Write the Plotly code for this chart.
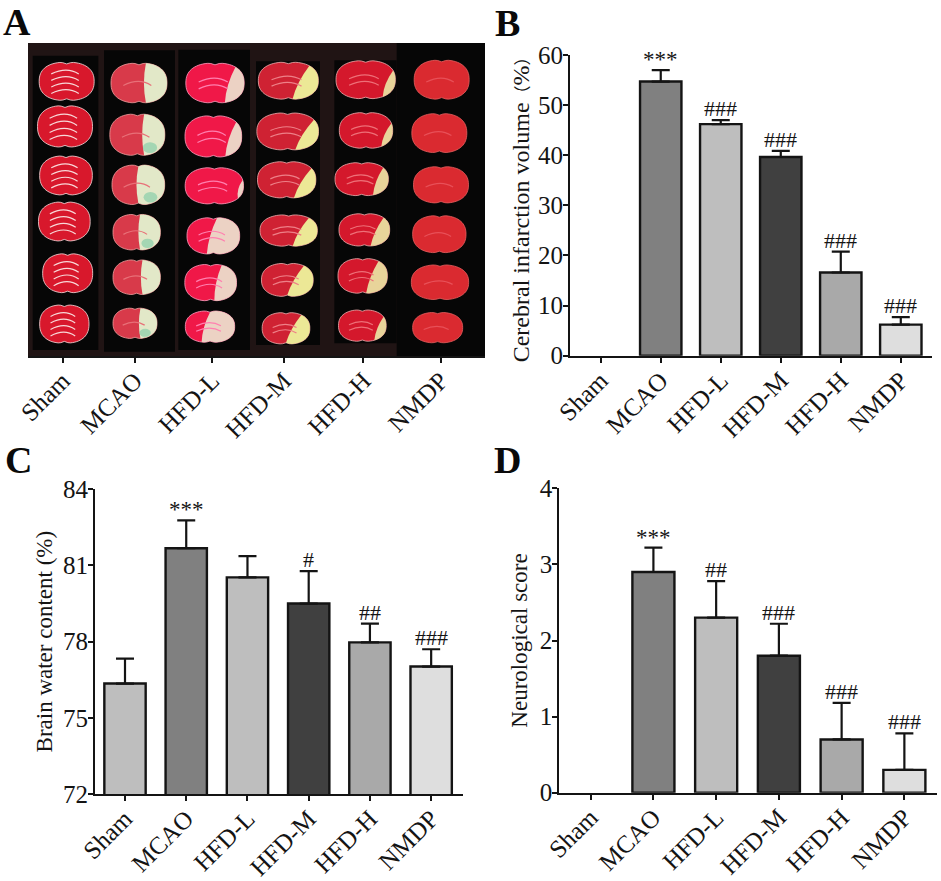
#!/usr/bin/env python
# -*- coding: utf-8 -*-
import math
import plotly.graph_objects as go
from plotly.subplots import make_subplots

W = 941
H = 881
FONT = "Liberation Serif, Noto Sans CJK SC"
INK = "#141414"

groups = ["Sham", "MCAO", "HFD-L", "HFD-M", "HFD-H", "NMDP"]
bar_colors = ["#bebebe", "#808080", "#bebebe", "#404040", "#a9a9a9", "#dedede"]

# panel B, Sham has no bar
infarct_mean = [None, 54.7, 46.2, 39.65, 16.6, 6.2]
infarct_err = [None, 2.3, 0.8, 1.2, 4.15, 1.5]
infarct_sig = ["", "***", "###", "###", "###", "###"]

# panel C
water_mean = [76.35, 81.68, 80.53, 79.5, 77.97, 77.02]
water_err = [0.98, 1.1, 0.84, 1.28, 0.74, 0.68]
water_sig = ["", "***", "", "#", "##", "###"]

# panel D, Sham has no bar
score_mean = [None, 2.9, 2.3, 1.8, 0.7, 0.3]
score_err = [None, 0.32, 0.48, 0.42, 0.48, 0.48]
score_sig = ["", "***", "##", "###", "###", "###"]

# panel A, brain sections (photo units, 3 per pixel)
photo_ticks = [188, 405, 636, 852, 1090, 1322]
strip_left = [98, 312, 535, 768, 1003, 1190]
strip_right = [295, 525, 750, 960, 1190, 1455]
strip_top = [168, 152, 150, 185, 182, 130]
strip_bottom = [1050, 1055, 1050, 1035, 1030, 1068]

section_x = [
    [200, 195, 198, 193, 203, 193],
    [417, 412, 415, 410, 410, 405],
    [645, 640, 643, 640, 632, 630],
    [865, 863, 860, 866, 862, 858],
    [1097, 1098, 1085, 1093, 1088, 1087],
    [1325, 1318, 1323, 1318, 1320, 1313],
]
section_y = [
    [245, 380, 527, 665, 820, 972],
    [250, 405, 555, 697, 832, 970],
    [250, 410, 558, 708, 848, 980],
    [243, 395, 540, 692, 840, 985],
    [240, 392, 538, 690, 828, 977],
    [240, 400, 555, 703, 847, 983],
]
section_w = [
    [165, 165, 158, 155, 150, 148],
    [168, 165, 158, 142, 142, 132],
    [175, 170, 175, 158, 155, 148],
    [180, 185, 175, 172, 155, 143],
    [178, 160, 160, 152, 148, 143],
    [165, 165, 165, 160, 172, 150],
]
section_h = [
    [115, 125, 118, 118, 118, 115],
    [120, 125, 120, 108, 105, 92],
    [120, 125, 110, 110, 110, 95],
    [112, 112, 110, 95, 100, 95],
    [115, 108, 100, 98, 105, 95],
    [118, 118, 110, 112, 105, 92],
]
lesion_share = [
    [0, 0, 0, 0, 0, 0],
    [0.4, 0.4, 0.5, 0.48, 0.42, 0.4],
    [0.25, 0.2, 0.05, 0.55, 0.4, 0.6],
    [0.3, 0.2, 0.2, 0.3, 0.35, 0.35],
    [0.1, 0.1, 0.2, 0.25, 0.3, 0.15],
    [0, 0, 0, 0, 0, 0],
]
lesion_lean = [0, 0, 0.3, 0.6, 0.4, 0]
tissue_colors = ["#d8182c", "#d83a4a", "#f01848", "#cf2233", "#d4182c", "#da2a30"]
lesion_colors = ["#ffffff", "#e2e8c8", "#ecd2c4", "#ece896", "#e8d49a", "#ffffff"]
streak_colors = ["#f8d8d8", "#e87078", "#ff80b0", "#ee8088", "#ee7078", "#e85058"]
streak_counts = [4, 1, 2, 2, 2, 1]
edge_colors = ["#f8e0e0", "#f0a0a0", "#ffa0c0", "#f0b0b0", "#f0b0b0", "#e86060"]


def outline(cx, cy, w, h):
    """brain section outline: a squared ellipse with a notch top and bottom"""
    pts = []
    for i in range(72):
        t = -math.pi + i * 2 * math.pi / 72
        c, s = math.cos(t), math.sin(t)
        u = math.copysign(abs(c) ** 0.8, c)
        v = math.copysign(abs(s) ** 0.85, s)
        dent = 0.09 * math.exp(-(u / 0.12) ** 2)
        v = v + dent if v < 0 else v - dent
        pts.append((cx + u * w / 2, cy + v * h / 2))
    return pts


def to_path(pts):
    return "M " + " L ".join(f"{x:.1f},{y:.1f}" for x, y in pts) + " Z"


def lesion_path(pts, cx, cy, w, share, lean):
    """right hand part of the outline, closed with a curve that bulges left"""
    cut = cx + w / 2 - share * w
    part = [p for p in pts if p[0] + lean * (p[1] - cy) >= cut]
    head = "M " + " L ".join(f"{x:.1f},{y:.1f}" for x, y in part)
    ctrl_x = (part[0][0] + part[-1][0]) / 2 - 0.07 * w
    ctrl_y = (part[0][1] + part[-1][1]) / 2
    return f"{head} Q {ctrl_x:.1f},{ctrl_y:.1f} {part[0][0]:.1f},{part[0][1]:.1f} Z"


def photo_shapes():
    shapes = [dict(type="rect", xref="x", yref="y", x0=84, x1=1455, y0=130, y1=1068,
                   fillcolor="#201414", line_width=0, layer="below")]
    for i in range(6):
        shapes.append(dict(type="rect", xref="x", yref="y",
                           x0=strip_left[i], x1=strip_right[i],
                           y0=strip_top[i], y1=strip_bottom[i],
                           fillcolor="#060606", line_width=0, layer="below"))
        for j in range(6):
            cx, cy = section_x[i][j], section_y[i][j]
            w, h = section_w[i][j], section_h[i][j]
            pts = outline(cx, cy, w, h)
            shapes.append(dict(type="path", xref="x", yref="y", path=to_path(pts),
                               fillcolor=tissue_colors[i], line=dict(color=edge_colors[i], width=0.8),
                               layer="below"))
            share = lesion_share[i][j]
            if share > 0:
                shapes.append(dict(type="path", xref="x", yref="y",
                                   path=lesion_path(pts, cx, cy, w, share, lesion_lean[i]),
                                   fillcolor=lesion_colors[i], line_width=0, layer="below"))
            # greenish rim low on the right of the MCAO sections
            if i == 1 and j in (1, 2, 3, 5):
                shapes.append(dict(type="circle", xref="x", yref="y",
                                   x0=cx + w * 0.1, x1=cx + w * 0.36,
                                   y0=cy + h * 0.18, y1=cy + h * 0.44,
                                   fillcolor="#8fd0ac", opacity=0.75, line_width=0, layer="below"))
            # pale fibre bands through each section
            count = streak_counts[i]
            for k in range(count):
                dy = (k - (count - 1) / 2) * h * 0.17
                shapes.append(dict(type="path", xref="x", yref="y",
                                   path=f"M {cx - w * 0.28:.1f},{cy + dy + h * 0.06:.1f} "
                                        f"Q {cx:.1f},{cy + dy - h * 0.14:.1f} "
                                        f"{cx + w * 0.22:.1f},{cy + dy + h * 0.06:.1f}",
                                   line=dict(color=streak_colors[i], width=1.2), layer="below"))
    return shapes


def dom_x(a, b):
    return [a / W, b / W]


def dom_y(top, bottom):
    return [1 - bottom / H, 1 - top / H]


def add_panel(fig, row, col, means, errs, sig, bar_width, sig_shift):
    fig.add_trace(
        go.Bar(
            x=groups,
            y=means,
            width=bar_width,
            marker=dict(color=bar_colors, line=dict(color=INK, width=2.4)),
            error_y=dict(type="data", array=errs, symmetric=False, color=INK, thickness=2.2, width=9),
        ),
        row=row, col=col
    )
    for name, m, e, s in zip(groups, means, errs, sig):
        if s:
            fig.add_annotation(x=name, y=m + e, text=s, showarrow=False, yanchor="bottom",
                               yshift=sig_shift - (1 if s == "***" else 0),
                               font=dict(family=FONT, size=23 if s == "***" else 22, color=INK),
                               row=row, col=col)


fig = make_subplots(rows=2, cols=2)

add_panel(fig, 1, 2, infarct_mean, infarct_err, infarct_sig, 0.69, -3)
add_panel(fig, 2, 1, water_mean, water_err, water_sig, 0.675, -3)
add_panel(fig, 2, 2, score_mean, score_err, score_sig, 0.67, -3)

axis_style = dict(showgrid=False, zeroline=False, showline=True, linecolor=INK, linewidth=2.2,
                  automargin=False, ticks="outside", ticklen=5, tickwidth=2, tickcolor=INK,
                  ticklabelstandoff=-5,
                  tickfont=dict(family=FONT, size=25, color=INK))

# panel A, the photo has only an x axis
fig.update_xaxes(axis_style, domain=dom_x(28, 485), range=[84, 1455], tickmode="array",
                 tickvals=photo_ticks, ticktext=groups, tickangle=-45, ticklabelstandoff=-7, row=1, col=1)
fig.update_yaxes(domain=dom_y(43, 356), range=[1068, 130], visible=False, automargin=False, row=1, col=1)

# panel B
fig.update_xaxes(axis_style, domain=dom_x(570, 932), range=[-0.512, 5.52], tickangle=-45,
                 ticklabelstandoff=-7, row=1, col=2)
fig.update_yaxes(axis_style, domain=dom_y(55, 355.7), range=[0, 60], tickvals=[0, 10, 20, 30, 40, 50, 60],
                 title=dict(text='Cerebral infarction volume<span style="font-size:17px">（</span>%'
                                 '<span style="font-size:17px">）</span>', standoff=1,
                            font=dict(family=FONT, size=24, color=INK)),
                 row=1, col=2)

# panel C
fig.update_xaxes(axis_style, domain=dom_x(95, 463), range=[-0.49, 5.52], tickangle=-45,
                 ticklabelstandoff=-7, row=2, col=1)
fig.update_yaxes(axis_style, domain=dom_y(489.3, 794), range=[72, 84], tickvals=[72, 75, 78, 81, 84],
                 title=dict(text="Brain water content (%)", standoff=4,
                            font=dict(family=FONT, size=23, color=INK)),
                 row=2, col=1)

# panel D
fig.update_xaxes(axis_style, domain=dom_x(559.3, 937), range=[-0.5, 5.52], tickangle=-45,
                 ticklabelstandoff=-7, row=2, col=2)
fig.update_yaxes(axis_style, domain=dom_y(488.3, 792.7), range=[0, 4], tickvals=[0, 1, 2, 3, 4],
                 title=dict(text="Neurological score", standoff=6,
                            font=dict(family=FONT, size=23, color=INK)),
                 row=2, col=2)

# panel letters
for letter, px, py in [("A", 17, 21.5), ("B", 508, 23), ("C", 18, 460), ("D", 507, 460)]:
    fig.add_annotation(xref="paper", yref="paper", x=px / W, y=1 - py / H, text=f"<b>{letter}</b>",
                       showarrow=False, xanchor="center", yanchor="middle", borderpad=0,
                       font=dict(family=FONT, size=38, color="#0a0a0a"))

fig.update_layout(
    width=W,
    height=H,
    margin=dict(l=0, r=0, t=0, b=0),
    paper_bgcolor="white",
    plot_bgcolor="rgba(0,0,0,0)",
    showlegend=False,
    shapes=photo_shapes(),
)

fig.write_html("out.html", config={"displayModeBar": False},
               post_script="document.body.style.margin='0';")
